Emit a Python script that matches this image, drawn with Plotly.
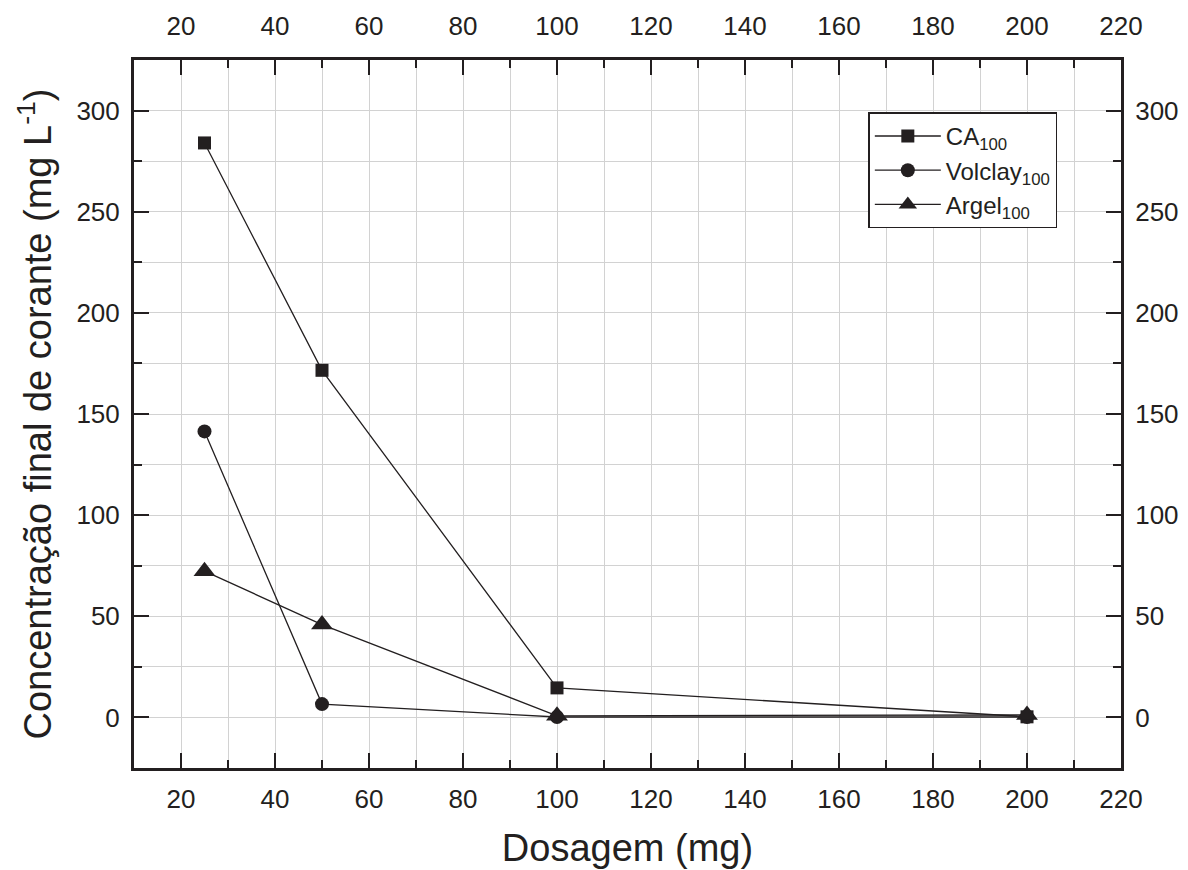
import plotly.graph_objects as go

# Dose of adsorbent (mg) and final dye concentration (mg/L)
dosagem = [25, 50, 100, 200]
ca_100 = [284, 171.6, 14.6, 0.3]
volclay_100 = [141.4, 6.6, 0.2, 0.2]
argel_100 = [72.3, 45.9, 0.8, 1.2]

series_names = ["CA<sub>100</sub>", "Volclay<sub>100</sub>", "Argel<sub>100</sub>"]
series_values = [ca_100, volclay_100, argel_100]
symbols = ["square", "circle", "triangle-up"]
sizes = [13, 14, 19]

ink = "#231f20"
font_family = "Liberation Sans, Arial, sans-serif"

fig = go.Figure()
for name, vals, sym, sz in zip(series_names, series_values, symbols, sizes):
    fig.add_trace(go.Scatter(
        x=dosagem, y=vals, name=name, mode="lines+markers",
        line=dict(color=ink, width=1.3),
        marker=dict(symbol=sym, size=sz, color=ink),
    ))

# invisible anchor trace so the top/right mirror axes are rendered
fig.add_trace(go.Scatter(x=[10], y=[0], xaxis="x2", yaxis="y2", mode="markers",
                         marker=dict(opacity=0), showlegend=False, hoverinfo="skip"))

xr = [10, 220]
yr = [-25, 325]

axis_common = dict(
    showline=True, linewidth=3, linecolor=ink, mirror=False,
    ticks="inside", ticklen=15, tickwidth=2, tickcolor=ink,
    tickfont=dict(family=font_family, size=26, color=ink),
    zeroline=False, automargin=False,
)

fig.update_layout(
    width=1188, height=870,
    margin=dict(l=134, r=67, t=60, b=102),
    paper_bgcolor="white", plot_bgcolor="white",
    font=dict(family=font_family, color=ink),
    xaxis=dict(
        range=xr, dtick=20, tick0=0, **axis_common, ticklabelstandoff=6,
        showgrid=True, gridcolor="#d2d2d2", gridwidth=1,
        minor=dict(dtick=10, tick0=0, ticks="inside", ticklen=8, tickwidth=2,
                   tickcolor=ink, showgrid=True, gridcolor="#d2d2d2", gridwidth=1),
        title=dict(text="Dosagem (mg)", font=dict(size=38, family=font_family, color=ink), standoff=22),
    ),
    xaxis2=dict(
        range=xr, dtick=20, tick0=0, overlaying="x", side="top", anchor="y", **axis_common,
        ticklabelstandoff=12, showgrid=False,
        minor=dict(dtick=10, tick0=0, ticks="inside", ticklen=8, tickwidth=2, tickcolor=ink, showgrid=False),
    ),
    yaxis=dict(
        range=yr, dtick=50, tick0=0, **axis_common, ticklabelstandoff=6,
        showgrid=True, gridcolor="#d2d2d2", gridwidth=1,
        minor=dict(dtick=25, tick0=0, ticks="inside", ticklen=8, tickwidth=2,
                   tickcolor=ink, showgrid=True, gridcolor="#d2d2d2", gridwidth=1),
        title=dict(text="Concentração final de corante (mg L<sup>-1</sup>)",
                   font=dict(size=38, family=font_family, color=ink), standoff=14),
    ),
    yaxis2=dict(
        range=yr, dtick=50, tick0=0, overlaying="y", side="right", anchor="x", **axis_common,
        ticklabelstandoff=6, showgrid=False,
        minor=dict(dtick=25, tick0=0, ticks="inside", ticklen=8, tickwidth=2, tickcolor=ink, showgrid=False),
    ),
    legend=dict(
        x=0.744, y=0.926, xanchor="left", yanchor="top",
        bgcolor="white", bordercolor=ink, borderwidth=1.5,
        font=dict(family=font_family, size=24, color=ink),
        tracegroupgap=0, itemsizing="trace", itemwidth=66,
    ),
    showlegend=True,
)

fig.write_html("out.html")
